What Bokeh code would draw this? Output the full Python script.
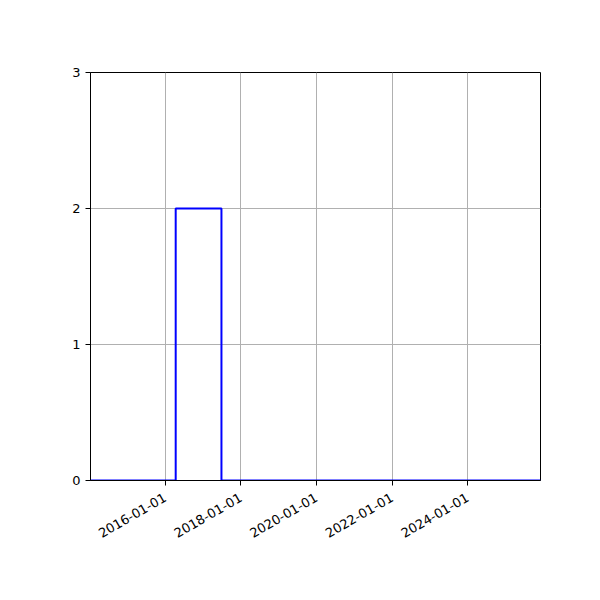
import math
import pandas as pd
from bokeh.plotting import figure
from bokeh.models import FixedTicker, DatetimeTickFormatter, Range1d
from bokeh.embed import file_html
from bokeh.resources import INLINE

# data
step_dates = ["2014-01-10", "2016-04-12", "2017-06-28", "2025-12-05"]
step_values = [0, 2, 0, 0]
x_tick_labels = ["2016-01-01", "2018-01-01", "2020-01-01", "2022-01-01", "2024-01-01"]
y_ticks = [0, 1, 2, 3]
x_start = "2014-01-10"
x_end = "2025-12-05"

xs = pd.to_datetime(step_dates)
x_ticks_ms = [pd.Timestamp(t).value / 1e6 for t in x_tick_labels]

p = figure(width=600, height=600, output_backend="svg", toolbar_location=None,
           x_axis_type="datetime",
           x_range=Range1d(pd.Timestamp(x_start), pd.Timestamp(x_end)),
           y_range=Range1d(0, 3),
           min_border_left=90, min_border_top=72, min_border_right=60, min_border_bottom=120)

p.step(xs, step_values, mode="after", line_color="blue", line_width=2)

p.xaxis.ticker = FixedTicker(ticks=x_ticks_ms)
p.xaxis.formatter = DatetimeTickFormatter(days="%Y-%m-%d", months="%Y-%m-%d", years="%Y-%m-%d")
p.xaxis.major_label_orientation = math.pi / 6
p.yaxis.ticker = FixedTicker(ticks=y_ticks)

for ax in [p.xaxis[0], p.yaxis[0]]:
    ax.axis_line_color = "black"
    ax.major_tick_line_color = "black"
    ax.minor_tick_line_color = None
    ax.major_tick_out = 5
    ax.major_tick_in = 0
    ax.major_label_text_font = "DejaVu Sans"
    ax.major_label_text_font_size = "13px"
    ax.major_label_text_color = "black"
    ax.major_label_standoff = 5
p.xaxis.major_label_standoff = 11

p.grid.grid_line_color = "#b0b0b0"
p.grid.grid_line_width = 1
p.outline_line_color = "black"
p.outline_line_width = 1
p.outline_line_alpha = 1
p.background_fill_color = "white"
p.border_fill_color = "white"

open("out.html", "w").write(file_html(p, INLINE))
